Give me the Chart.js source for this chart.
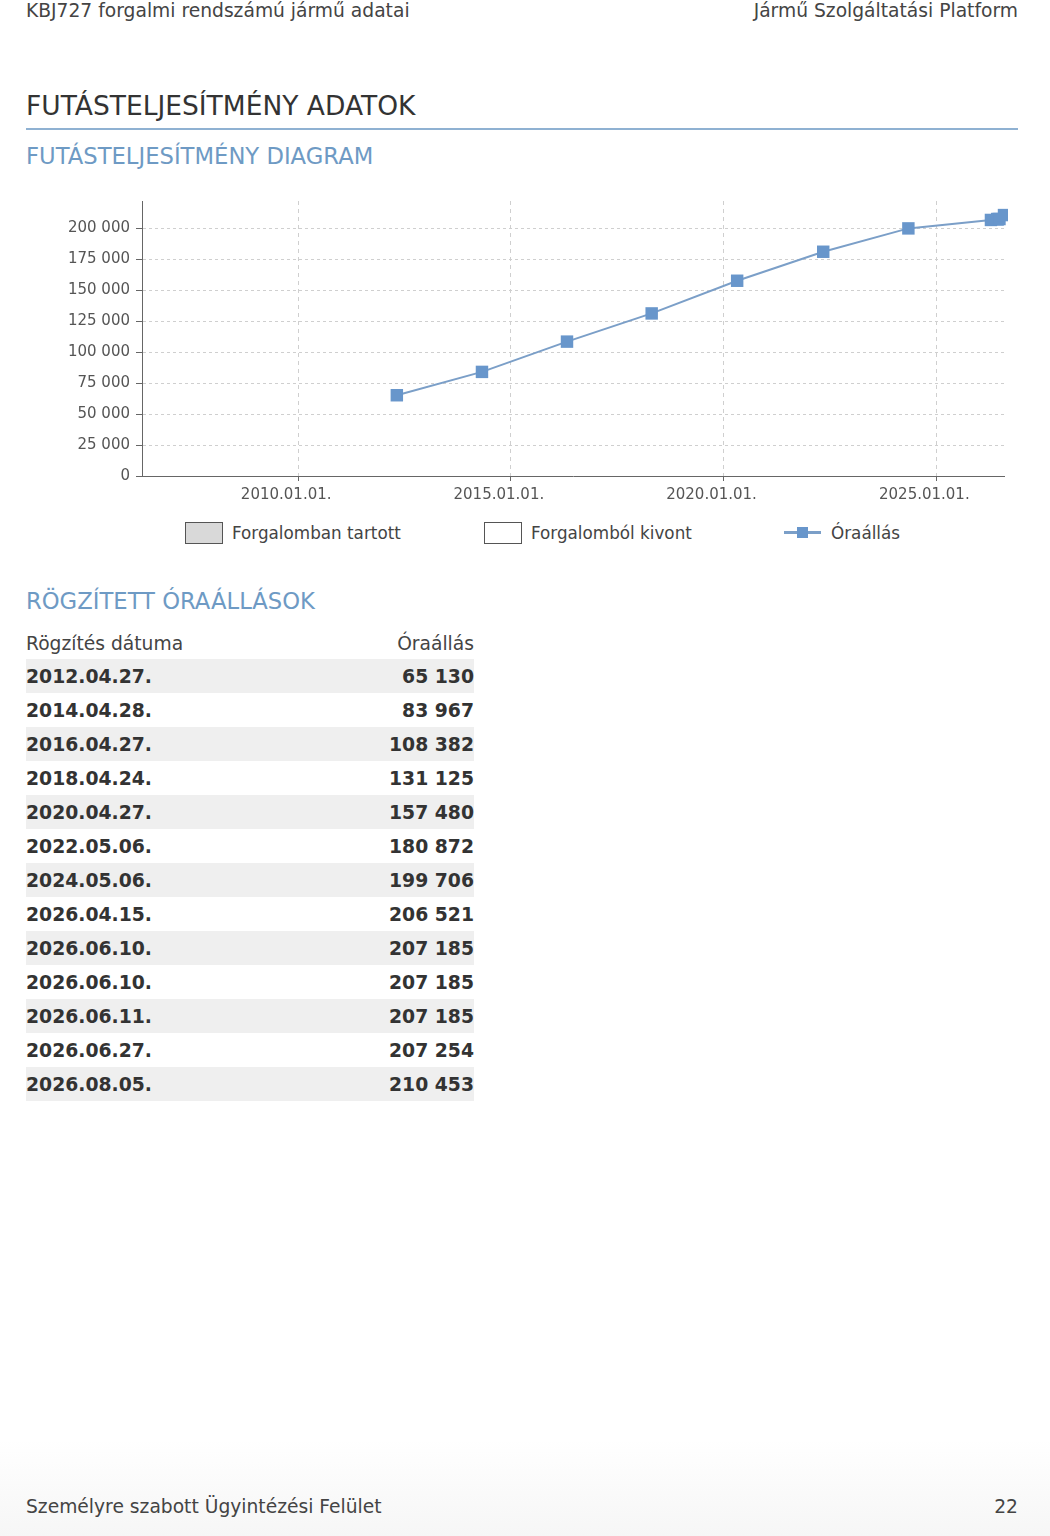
<!DOCTYPE html>
<html lang="hu">
<head>
<meta charset="UTF-8">
<title>Futásteljesítmény adatok</title>
<script src="https://cdn.jsdelivr.net/npm/chart.js"></script>
<style>
    html, body { margin: 0; padding: 0; }
    body {
        width: 1050px; height: 1536px; position: relative; overflow: hidden;
        font-family: 'DejaVu Sans', sans-serif; color: #444;
        background: linear-gradient(to bottom, #fff 0, #fff 1440px, #f6f6f6 1536px);
    }
    .abs { position: absolute; white-space: nowrap; }
    .top { top: 0; font-size: 18.7px; line-height: 22px; color: #444; }
    .h1 { left: 26px; top: 89px; font-size: 26.5px; line-height: 34px; color: #333; }
    .rule { left: 26px; top: 128px; width: 992px; height: 2px; background: #8fb1d2; }
    .h2 { left: 26px; font-size: 22.7px; line-height: 28px; color: #6e9ac4; }
    #chartBox { left: 60px; top: 186px; width: 958px; height: 324px; }
    #legend { left: 0; top: 521px; width: 1050px; height: 24px; font-size: 16.8px; line-height: 24px; color: #444; }
    .lg { position: absolute; top: 0; height: 24px; }
    .lg .sym { position: absolute; left: 0; top: 1px; width: 36px; height: 20px; border: 1px solid #555; }
    .lg .txt { position: absolute; left: 47px; top: 0; }
    table { position: absolute; left: 26px; top: 627px; width: 448px; border-collapse: collapse; }
    th { font-weight: normal; font-size: 18.7px; color: #444; height: 32px; padding: 0; }
    td { font-weight: bold; font-size: 18.8px; color: #333; height: 34px; padding: 0; }
    tbody tr:nth-child(odd) td { background: #efefef; }
    .l { text-align: left; } .r { text-align: right; }
    .foot { top: 1496px; font-size: 18.7px; line-height: 22px; color: #444; }
</style>
</head>
<body>
    <div class="abs top" style="left:26px">KBJ727 forgalmi rendszámú jármű adatai</div>
    <div class="abs top" style="right:32px">Jármű Szolgáltatási Platform</div>
    <div class="abs h1">FUTÁSTELJESÍTMÉNY ADATOK</div>
    <div class="abs rule"></div>
    <div class="abs h2" style="top:142px">FUTÁSTELJESÍTMÉNY DIAGRAM</div>

    <div class="abs" id="chartBox"><canvas id="kmChart"></canvas></div>
    <div class="abs" id="legend"></div>

    <div class="abs h2" style="top:587px">RÖGZÍTETT ÓRAÁLLÁSOK</div>
    <table id="records">
        <thead><tr><th class="l">Rögzítés dátuma</th><th class="r">Óraállás</th></tr></thead>
        <tbody></tbody>
    </table>

    <div class="abs foot" style="left:26px">Személyre szabott Ügyintézési Felület</div>
    <div class="abs foot" style="right:32px">22</div>

<script>
// rögzített óraállások
const recordDates = ['2012.04.27.', '2014.04.28.', '2016.04.27.', '2018.04.24.', '2020.04.27.', '2022.05.06.',
    '2024.05.06.', '2026.04.15.', '2026.06.10.', '2026.06.10.', '2026.06.11.', '2026.06.27.', '2026.08.05.'];
const odometerValues = [65130, 83967, 108382, 131125, 157480, 180872, 199706, 206521, 207185, 207185, 207185, 207254, 210453];

// tengelyek
const xTickDates = ['2010.01.01.', '2015.01.01.', '2020.01.01.', '2025.01.01.'];
const xRangeDates = ['2006.05.01.', '2026.08.05.'];
const yTickValues = [0, 25000, 50000, 75000, 100000, 125000, 150000, 175000, 200000];
const yMax = 221800;

const legendLabels = ['Forgalomban tartott', 'Forgalomból kivont', 'Óraállás'];

function toTime(s) {
    const p = s.split('.');
    return Date.UTC(+p[0], +p[1] - 1, +p[2]);
}
function fmt(n) {
    return String(n).replace(/\B(?=(\d{3})+(?!\d))/g, ' ');
}

// táblázat
const tbody = document.querySelector('#records tbody');
recordDates.forEach(function (d, i) {
    const tr = document.createElement('tr');
    tr.innerHTML = '<td class="l">' + d + '</td><td class="r">' + fmt(odometerValues[i]) + '</td>';
    tbody.appendChild(tr);
});

// jelmagyarázat
const legendPos = [185, 484, 784];
const legend = document.getElementById('legend');
legendLabels.forEach(function (txt, i) {
    const item = document.createElement('div');
    item.className = 'lg';
    item.style.left = legendPos[i] + 'px';
    let sym;
    if (i === 0) sym = '<span class="sym" style="background:#d9d9d9"></span>';
    else if (i === 1) sym = '<span class="sym" style="background:#fff"></span>';
    else sym = '<span style="position:absolute;left:0;top:10px;width:37px;height:3px;background:#7b9fc8"></span>' +
        '<span style="position:absolute;left:13px;top:6px;width:11px;height:11px;background:#6896cb"></span>';
    item.innerHTML = sym + '<span class="txt">' + txt + '</span>';
    legend.appendChild(item);
});

Chart.defaults.font.family = "'DejaVu Sans', sans-serif";

const points = recordDates.map(function (d, i) { return { x: toTime(d), y: odometerValues[i] }; });

new Chart(document.getElementById('kmChart'), {
    type: 'line',
    data: {
        datasets: [{
            label: legendLabels[2],
            data: points,
            borderColor: '#7b9fc8',
            borderWidth: 2,
            tension: 0,
            pointStyle: 'rect',
            pointRadius: 8.8,
            pointBackgroundColor: '#6896cb',
            pointBorderWidth: 0,
            clip: 4
        }]
    },
    options: {
        responsive: true,
        maintainAspectRatio: false,
        animation: false,
        layout: { padding: { top: 8, right: 14, left: 0, bottom: 0 } },
        plugins: { legend: { display: false }, tooltip: { enabled: false } },
        scales: {
            x: {
                type: 'linear',
                min: toTime(xRangeDates[0]),
                max: toTime(xRangeDates[1]),
                afterBuildTicks: function (scale) {
                    scale.ticks = xTickDates.map(function (d) { return { value: toTime(d) }; });
                },
                afterFit: function (scale) { scale.height = 34; },
                ticks: {
                    autoSkip: false, maxRotation: 0, padding: 5, labelOffset: -12,
                    color: '#555', font: { size: 15 },
                    callback: function (v, i) { return xTickDates[i]; }
                },
                grid: { color: '#cfcfcf', tickColor: '#666', tickLength: 5 },
                border: { color: '#666', width: 1, dash: [4, 4] }
            },
            y: {
                min: 0,
                max: yMax,
                afterBuildTicks: function (scale) {
                    scale.ticks = yTickValues.map(function (v) { return { value: v }; });
                },
                afterFit: function (scale) { scale.width = 82; },
                ticks: {
                    padding: 6, color: '#555', font: { size: 15 },
                    callback: function (v) { return fmt(v); }
                },
                grid: { color: '#cfcfcf', tickColor: '#666', tickLength: 6 },
                border: { color: '#666', width: 1, dash: [3, 3] }
            }
        }
    }
});
</script>
</body>
</html>
